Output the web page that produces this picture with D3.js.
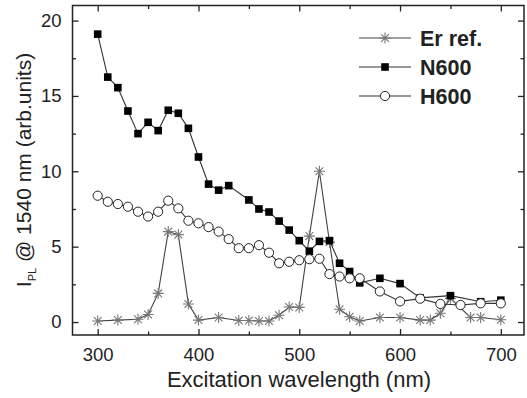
<!DOCTYPE html>
<html>
<head>
<meta charset="utf-8">
<script src="https://cdn.jsdelivr.net/npm/d3@7"></script>
<style>
  html, body { margin: 0; padding: 0; background: #fff; }
  svg { display: block; }
  text { font-family: "Liberation Sans", Arial, sans-serif; fill: #222; }
</style>
</head>
<body>
<script>
// ---- data ----
const erX = [300,320,340,350,360,370,380,390,400,420,440,450,460,470,480,490,500,510,520,530,540,550,560,580,600,620,630,640,650,670,680,700];
const erY = [0.07,0.13,0.18,0.5,1.9,6.0,5.8,1.2,0.13,0.3,0.1,0.1,0.07,0.07,0.45,1.0,0.97,5.7,10.0,5.3,0.85,0.35,0.07,0.3,0.3,0.13,0.13,0.58,1.57,0.3,0.3,0.15];

const n600X = [300,310,320,330,340,350,360,370,380,390,400,410,420,430,450,460,470,480,490,500,510,520,530,540,550,560,580,600,620,650,680,700];
const n600Y = [19.1,16.25,15.55,14.0,12.5,13.25,12.7,14.05,13.85,12.85,10.95,9.15,8.75,9.05,8.1,7.5,7.3,6.7,6.1,5.4,4.7,5.35,5.4,3.9,3.35,2.6,2.9,2.55,1.6,1.75,1.35,1.45];

const h600X = [300,310,320,330,340,350,360,370,380,390,400,410,420,430,440,450,460,470,480,490,500,510,520,530,540,550,560,580,600,620,640,660,680,700];
const h600Y = [8.38,7.98,7.83,7.65,7.32,7.0,7.32,8.05,7.54,6.72,6.55,6.3,6.0,5.5,4.9,4.9,5.1,4.6,3.9,4.0,4.1,4.17,4.2,3.18,3.02,2.9,2.9,2.03,1.37,1.55,1.2,1.13,1.24,1.24];

const xTicks = [300,400,500,600,700];
const xMinor = [350,450,550,650];
const yTicks = [0,5,10,15,20];
const yMinor = [2.5,7.5,12.5,17.5];
const legendLabels = ["Er ref.","N600","H600"];

// ---- layout ----
const W = 527, H = 398;
const svg = d3.select("body").append("svg").attr("width", W).attr("height", H);

const x = d3.scaleLinear().domain([275, 723]).range([72.5, 524]);
const y = d3.scaleLinear().domain([-0.86, 21.0]).range([335, 5.5]);

const x0 = x.range()[0], x1 = x.range()[1], y0 = y.range()[0], y1 = y.range()[1];
const major = 6, minor = 3.5;
const axisCol = "#222";

const gB = svg.append("g").attr("transform", `translate(0,${y0})`)
  .call(d3.axisBottom(x).tickValues(xTicks).tickSizeInner(-major).tickSizeOuter(0).tickPadding(13).tickFormat(d3.format("d")));
const gBm = svg.append("g").attr("transform", `translate(0,${y0})`)
  .call(d3.axisBottom(x).tickValues(xMinor).tickSizeInner(-minor).tickSizeOuter(0).tickFormat(""));
const gT = svg.append("g").attr("transform", `translate(0,${y1})`)
  .call(d3.axisTop(x).tickValues(xTicks).tickSizeInner(-major).tickSizeOuter(0).tickFormat(""));
const gTm = svg.append("g").attr("transform", `translate(0,${y1})`)
  .call(d3.axisTop(x).tickValues(xMinor).tickSizeInner(-minor).tickSizeOuter(0).tickFormat(""));
const gL = svg.append("g").attr("transform", `translate(${x0},0)`)
  .call(d3.axisLeft(y).tickValues(yTicks).tickSizeInner(-major).tickSizeOuter(0).tickPadding(11).tickFormat(d3.format("d")));
const gLm = svg.append("g").attr("transform", `translate(${x0},0)`)
  .call(d3.axisLeft(y).tickValues(yMinor).tickSizeInner(-minor).tickSizeOuter(0).tickFormat(""));
const gR = svg.append("g").attr("transform", `translate(${x1},0)`)
  .call(d3.axisRight(y).tickValues(yTicks).tickSizeInner(-major).tickSizeOuter(0).tickFormat(""));
const gRm = svg.append("g").attr("transform", `translate(${x1},0)`)
  .call(d3.axisRight(y).tickValues(yMinor).tickSizeInner(-minor).tickSizeOuter(0).tickFormat(""));

[gB,gBm,gT,gTm,gL,gLm,gR,gRm].forEach(g => {
  g.select(".domain").remove();
  g.selectAll(".tick line").attr("stroke", axisCol).attr("stroke-width", 1.3);
  g.selectAll(".tick text").attr("fill", "#222").style("font-family", '"Liberation Sans", Arial, sans-serif').style("font-size", "18.5px");
});

// frame
svg.append("rect").attr("x", x0).attr("y", y1).attr("width", x1 - x0).attr("height", y0 - y1)
  .attr("fill", "none").attr("stroke", axisCol).attr("stroke-width", 1.5);

// axis titles
svg.append("text").attr("x", 299).attr("y", 387).attr("text-anchor", "middle")
  .style("font-size", "22px").text("Excitation wavelength (nm)");

const yt = svg.append("text").attr("transform", "translate(31,170) rotate(-90)").attr("text-anchor", "middle")
  .style("font-size", "21px");
yt.append("tspan").text("I");
yt.append("tspan").attr("dy", 5).style("font-size", "11px").text("PL");
yt.append("tspan").attr("dy", -5).text(" @ 1540 nm (arb.units)");

// ---- series ----
const line = d3.line().x(d => x(d[0])).y(d => y(d[1]));
const lineCol = "#333";

function starPath(r) {
  const a = r * Math.SQRT1_2;
  return `M${-r},0L${r},0M0,${-r}L0,${r}M${-a},${-a}L${a},${a}M${-a},${a}L${a},${-a}`;
}

function drawMarker(g, type) {
  if (type === "star") {
    g.append("path").attr("d", starPath(5.5)).attr("stroke", "#777").attr("stroke-width", 1.1).attr("fill", "none");
  } else if (type === "square") {
    g.append("rect").attr("x", -3.8).attr("y", -3.8).attr("width", 7.6).attr("height", 7.6).attr("fill", "#000");
  } else {
    g.append("circle").attr("r", 4.6).attr("fill", "#fff").attr("stroke", "#222").attr("stroke-width", 1);
  }
}

const series = [
  { xs: erX, ys: erY, type: "star", col: "#444" },
  { xs: n600X, ys: n600Y, type: "square", col: lineCol },
  { xs: h600X, ys: h600Y, type: "circle", col: lineCol }
];

series.forEach(s => {
  const pts = s.xs.map((v, i) => [v, s.ys[i]]);
  svg.append("path").datum(pts).attr("d", line).attr("fill", "none")
    .attr("stroke", s.col).attr("stroke-width", 1.1);
  svg.append("g").selectAll("g").data(pts).join("g")
    .attr("transform", d => `translate(${x(d[0])},${y(d[1])})`)
    .each(function() { drawMarker(d3.select(this), s.type); });
});

// ---- legend ----
const legY = [38, 67, 96];
series.forEach((s, i) => {
  const g = svg.append("g").attr("transform", `translate(0,${legY[i]})`);
  g.append("line").attr("x1", 359).attr("x2", 411).attr("y1", 0).attr("y2", 0)
    .attr("stroke", s.col).attr("stroke-width", 1.1);
  const m = g.append("g").attr("transform", "translate(385,0)");
  drawMarker(m, s.type);
  g.append("text").attr("x", 420).attr("y", 7.5).style("font-size", "21.5px").style("font-weight", "bold")
    .text(legendLabels[i]);
});
</script>
</body>
</html>
